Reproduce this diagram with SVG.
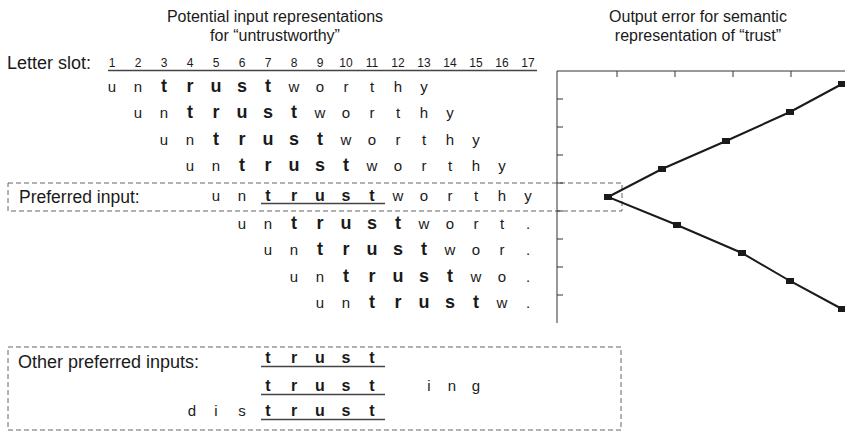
<svg xmlns="http://www.w3.org/2000/svg" width="845" height="432" viewBox="0 0 845 432">
<style>
text{font-family:"Liberation Sans",Arial,sans-serif;fill:#1a1a1a}
.t{font-size:16px;text-anchor:middle}
.lab{font-size:17.5px}
.num{font-size:12px;text-anchor:middle}
.n{font-size:15px;text-anchor:middle}
.b{font-size:18px;font-weight:bold;text-anchor:middle}
.bp{font-size:16px;font-weight:bold;text-anchor:middle}
.ul{stroke:#444;stroke-width:1.5;fill:none}
.dash{stroke:#666;stroke-width:1;stroke-dasharray:5 3;fill:none}
.ax{stroke:#333;stroke-width:1;fill:none}
.ln{stroke:#1a1a1a;stroke-width:2;fill:none}
.pt{fill:#1a1a1a}
</style>
<g id="titles">
<text class="t" x="275" y="22">Potential input representations</text>
<text class="t" x="275" y="41">for “untrustworthy”</text>
<text class="t" x="698" y="22">Output error for semantic</text>
<text class="t" x="698" y="41">representation of “trust”</text>
</g>
<g id="slots">
<text class="lab" x="7" y="69" style="font-size:18px">Letter slot:</text>
<text class="num" x="112" y="67">1</text><text class="num" x="138" y="67">2</text><text class="num" x="164" y="67">3</text><text class="num" x="190" y="67">4</text><text class="num" x="216" y="67">5</text><text class="num" x="242" y="67">6</text><text class="num" x="268" y="67">7</text><text class="num" x="294" y="67">8</text><text class="num" x="320" y="67">9</text><text class="num" x="346" y="67">10</text><text class="num" x="372" y="67">11</text><text class="num" x="398" y="67">12</text><text class="num" x="424" y="67">13</text><text class="num" x="450" y="67">14</text><text class="num" x="476" y="67">15</text><text class="num" x="502" y="67">16</text><text class="num" x="528" y="67">17</text>
<line class="ul" x1="108" y1="70.5" x2="537" y2="70.5"/>
</g>
<g id="row1">
<text class="n" x="112" y="92">u</text><text class="n" x="138" y="92">n</text><text class="b" x="164" y="92">t</text><text class="b" x="190" y="92">r</text><text class="b" x="216" y="92">u</text><text class="b" x="242" y="92">s</text><text class="b" x="268" y="92">t</text><text class="n" x="294" y="92">w</text><text class="n" x="320" y="92">o</text><text class="n" x="346" y="92">r</text><text class="n" x="372" y="92">t</text><text class="n" x="398" y="92">h</text><text class="n" x="424" y="92">y</text>
</g>
<g id="row2">
<text class="n" x="138" y="118">u</text><text class="n" x="164" y="118">n</text><text class="b" x="190" y="118">t</text><text class="b" x="216" y="118">r</text><text class="b" x="242" y="118">u</text><text class="b" x="268" y="118">s</text><text class="b" x="294" y="118">t</text><text class="n" x="320" y="118">w</text><text class="n" x="346" y="118">o</text><text class="n" x="372" y="118">r</text><text class="n" x="398" y="118">t</text><text class="n" x="424" y="118">h</text><text class="n" x="450" y="118">y</text>
</g>
<g id="row3">
<text class="n" x="164" y="145">u</text><text class="n" x="190" y="145">n</text><text class="b" x="216" y="145">t</text><text class="b" x="242" y="145">r</text><text class="b" x="268" y="145">u</text><text class="b" x="294" y="145">s</text><text class="b" x="320" y="145">t</text><text class="n" x="346" y="145">w</text><text class="n" x="372" y="145">o</text><text class="n" x="398" y="145">r</text><text class="n" x="424" y="145">t</text><text class="n" x="450" y="145">h</text><text class="n" x="476" y="145">y</text>
</g>
<g id="row4">
<text class="n" x="190" y="171">u</text><text class="n" x="216" y="171">n</text><text class="b" x="242" y="171">t</text><text class="b" x="268" y="171">r</text><text class="b" x="294" y="171">u</text><text class="b" x="320" y="171">s</text><text class="b" x="346" y="171">t</text><text class="n" x="372" y="171">w</text><text class="n" x="398" y="171">o</text><text class="n" x="424" y="171">r</text><text class="n" x="450" y="171">t</text><text class="n" x="476" y="171">h</text><text class="n" x="502" y="171">y</text>
</g>
<g id="preferred">
<rect class="dash" x="8" y="183" width="614" height="28"/>
<text class="lab" x="19" y="203">Preferred input:</text>
<text class="n" x="216" y="201">u</text><text class="n" x="242" y="201">n</text><text class="bp" x="268" y="201">t</text><text class="bp" x="294" y="201">r</text><text class="bp" x="320" y="201">u</text><text class="bp" x="346" y="201">s</text><text class="bp" x="372" y="201">t</text><text class="n" x="398" y="201">w</text><text class="n" x="424" y="201">o</text><text class="n" x="450" y="201">r</text><text class="n" x="476" y="201">t</text><text class="n" x="502" y="201">h</text><text class="n" x="528" y="201">y</text>
<line class="ul" x1="261" y1="203.5" x2="385" y2="203.5"/>
</g>
<g id="row6">
<text class="n" x="242" y="229">u</text><text class="n" x="268" y="229">n</text><text class="b" x="294" y="229">t</text><text class="b" x="320" y="229">r</text><text class="b" x="346" y="229">u</text><text class="b" x="372" y="229">s</text><text class="b" x="398" y="229">t</text><text class="n" x="424" y="229">w</text><text class="n" x="450" y="229">o</text><text class="n" x="476" y="229">r</text><text class="n" x="502" y="229">t</text><text class="n" x="528" y="229">.</text>
</g>
<g id="row7">
<text class="n" x="268" y="255">u</text><text class="n" x="294" y="255">n</text><text class="b" x="320" y="255">t</text><text class="b" x="346" y="255">r</text><text class="b" x="372" y="255">u</text><text class="b" x="398" y="255">s</text><text class="b" x="424" y="255">t</text><text class="n" x="450" y="255">w</text><text class="n" x="476" y="255">o</text><text class="n" x="502" y="255">r</text><text class="n" x="528" y="255">.</text>
</g>
<g id="row8">
<text class="n" x="294" y="282">u</text><text class="n" x="320" y="282">n</text><text class="b" x="346" y="282">t</text><text class="b" x="372" y="282">r</text><text class="b" x="398" y="282">u</text><text class="b" x="424" y="282">s</text><text class="b" x="450" y="282">t</text><text class="n" x="476" y="282">w</text><text class="n" x="502" y="282">o</text><text class="n" x="528" y="282">.</text>
</g>
<g id="row9">
<text class="n" x="320" y="308">u</text><text class="n" x="346" y="308">n</text><text class="b" x="372" y="308">t</text><text class="b" x="398" y="308">r</text><text class="b" x="424" y="308">u</text><text class="b" x="450" y="308">s</text><text class="b" x="476" y="308">t</text><text class="n" x="502" y="308">w</text><text class="n" x="528" y="308">.</text>
</g>
<g id="chart">
<line class="ax" x1="557" y1="71" x2="557" y2="323"/>
<line class="ax" x1="557" y1="71" x2="845" y2="71"/>
<path class="ax" d="M617 71v6M675 71v6M733 71v6M791 71v6M557 99h6M557 127h6M557 155h6M557 183h6M557 211h6M557 239h6M557 267h6M557 295h6"/>
</g>
<g id="connectors">
<polyline class="ln" points="842,84 790,112 726,141 662,169 608,197 677,225 742,253 790,281 842,309"/>
</g>
<g id="points">
<rect class="pt" x="604" y="194" width="8" height="6"/>
<rect class="pt" x="658" y="166" width="8" height="6"/>
<rect class="pt" x="722" y="138" width="8" height="6"/>
<rect class="pt" x="786" y="109" width="8" height="6"/>
<rect class="pt" x="838" y="81" width="8" height="6"/>
<rect class="pt" x="673" y="222" width="8" height="6"/>
<rect class="pt" x="738" y="250" width="8" height="6"/>
<rect class="pt" x="786" y="278" width="8" height="6"/>
<rect class="pt" x="838" y="306" width="8" height="6"/>
</g>
<g id="other">
<rect class="dash" x="8" y="347" width="613" height="83"/>
<text class="lab" x="18" y="368" style="font-size:18px">Other preferred inputs:</text>
<text class="bp" x="268" y="363">t</text><text class="bp" x="294" y="363">r</text><text class="bp" x="320" y="363">u</text><text class="bp" x="346" y="363">s</text><text class="bp" x="372" y="363">t</text>
<line class="ul" x1="261" y1="366.5" x2="385" y2="366.5"/>
<text class="bp" x="268" y="391">t</text><text class="bp" x="294" y="391">r</text><text class="bp" x="320" y="391">u</text><text class="bp" x="346" y="391">s</text><text class="bp" x="372" y="391">t</text>
<text class="n" x="429" y="391">i</text><text class="n" x="452" y="391">n</text><text class="n" x="476" y="391">g</text>
<line class="ul" x1="261" y1="394.5" x2="385" y2="394.5"/>
<text class="n" x="192" y="416">d</text><text class="n" x="216" y="416">i</text><text class="n" x="242" y="416">s</text>
<text class="bp" x="268" y="416">t</text><text class="bp" x="294" y="416">r</text><text class="bp" x="320" y="416">u</text><text class="bp" x="346" y="416">s</text><text class="bp" x="372" y="416">t</text>
<line class="ul" x1="261" y1="419.5" x2="385" y2="419.5"/>
</g>
</svg>
